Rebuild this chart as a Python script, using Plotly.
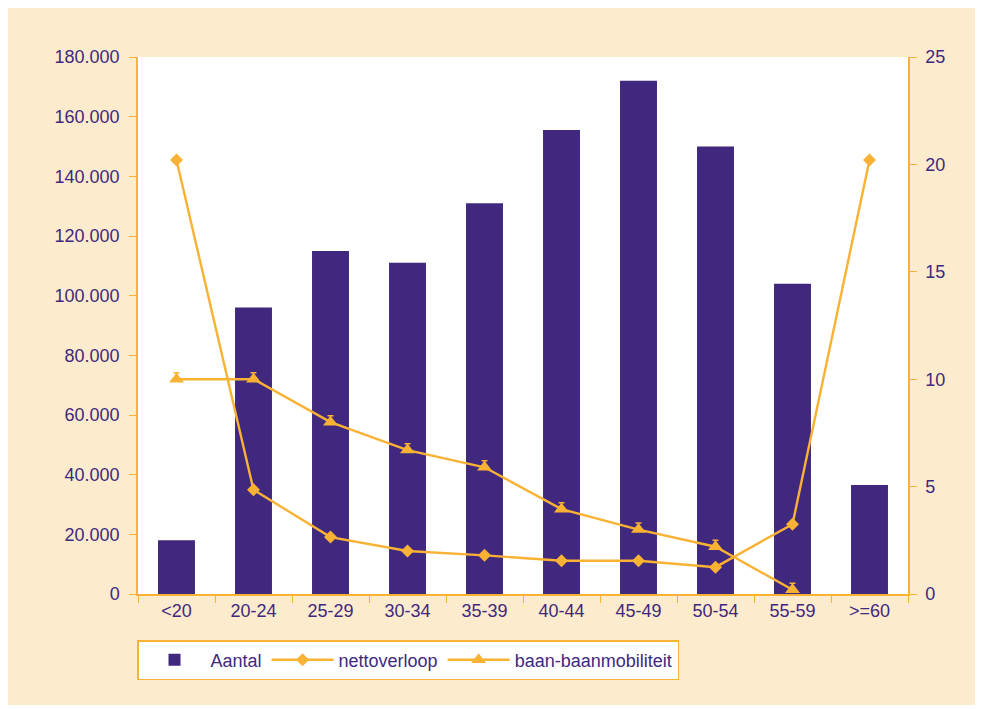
import plotly.graph_objects as go

categories = ["<20", "20-24", "25-29", "30-34", "35-39", "40-44", "45-49", "50-54", "55-59", ">=60"]
aantal = [18000, 96000, 115000, 111000, 131000, 155500, 172000, 150000, 104000, 36500]
nettoverloop = [20.2, 4.85, 2.65, 2.0, 1.8, 1.55, 1.55, 1.25, 3.25, 20.2]
baan = [10.0, 10.0, 8.0, 6.7, 5.9, 3.95, 3.0, 2.2, 0.2, None]

purple = "#41287F"
orange = "#F9B233"
beige = "#FCEBCD"
font = dict(family="Liberation Sans, Arial, sans-serif", size=18, color=purple)

fig = go.Figure()
fig.add_trace(go.Bar(x=categories, y=aantal, name="Aantal", marker=dict(color=purple, line=dict(width=0)),
                     width=0.48, yaxis="y"))
fig.add_trace(go.Scatter(x=categories, y=nettoverloop, name="nettoverloop", mode="lines+markers",
                         line=dict(color=orange, width=2.4),
                         marker=dict(symbol="diamond", size=10, color=orange), yaxis="y2"))
fig.add_trace(go.Scatter(x=categories, y=baan, name="baan-baanmobiliteit", mode="lines+markers",
                         line=dict(color=orange, width=2.4),
                         marker=dict(symbol="triangle-up", size=13, color=orange),
                         error_y=dict(type="constant", value=0.3, valueminus=0, symmetric=False,
                                      color=orange, thickness=1.5, width=3),
                         yaxis="y2"))

L, R, T, B = 138, 75, 57, 115
W, H = 983, 709
pw, ph = W - L - R, H - T - B

def px2x(px):
    return (px - L) / pw

def py2y(py):
    return (H - B - py) / ph

shapes = [
    dict(type="rect", xref="paper", yref="paper", x0=px2x(8), x1=px2x(975), y0=py2y(705), y1=py2y(8),
         fillcolor=beige, line=dict(width=0), layer="below"),
    dict(type="rect", xref="paper", yref="paper", x0=0, x1=1, y0=0, y1=1,
         fillcolor="white", line=dict(width=0), layer="below"),
]

fig.update_layout(
    width=W, height=H,
    margin=dict(l=L, r=R, t=T, b=B),
    paper_bgcolor="white",
    plot_bgcolor="white",
    font=font,
    separators=",.",
    shapes=shapes,
    showlegend=True,
    legend=dict(orientation="h", x=px2x(137), y=py2y(640), xanchor="left", yanchor="top",
                bgcolor="white", bordercolor=orange, borderwidth=1.5, font=font,
                itemwidth=62, tracegroupgap=0),
    xaxis=dict(type="category", range=[-0.5, 9.5], tickson="boundaries", ticks="outside", ticklen=7,
               tickcolor=orange, showline=True, linecolor=orange, linewidth=1.5, showgrid=False,
               tickfont=font),
    yaxis=dict(range=[0, 180000], dtick=20000, tickformat=",d", ticks="outside", ticklen=7,
               tickcolor=orange, showline=True, linecolor=orange, linewidth=1.5, showgrid=False,
               zeroline=False, tickfont=font, ticklabelstandoff=6),
    yaxis2=dict(range=[0, 25], dtick=5, overlaying="y", side="right", ticks="outside", ticklen=7,
                tickcolor=orange, showline=True, linecolor=orange, linewidth=1.5, showgrid=False,
                zeroline=False, tickfont=font, ticklabelstandoff=5),
)

fig.write_html("out.html", config={"displayModeBar": False},
               post_script="document.body.style.margin='0';document.body.style.overflow='hidden';")
